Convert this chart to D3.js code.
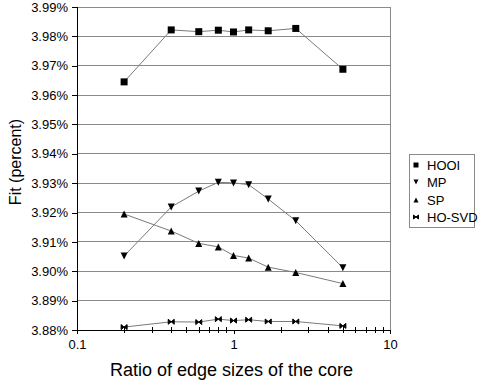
<!DOCTYPE html>
<html><head><meta charset="utf-8">
<script src="https://cdn.jsdelivr.net/npm/d3@7"></script>
<style>body{margin:0;background:#fff}svg{display:block;font-family:"Liberation Sans",Arial,sans-serif}</style>
</head><body><svg id="c" width="479" height="381"></svg>
<script>
const ratios = [0.2, 0.4, 0.6, 0.8, 1, 1.25, 5/3, 2.5, 5];
const seriesNames = ["HOOI", "MP", "SP", "HO-SVD"];
const hooi  = [3.9645, 3.9822, 3.9816, 3.9821, 3.9815, 3.9822, 3.9819, 3.9827, 3.9688];
const mp    = [3.9052, 3.9219, 3.9273, 3.9303, 3.9301, 3.9295, 3.9246, 3.9172, 3.9012];
const sp    = [3.9195, 3.9137, 3.9095, 3.9083, 3.9054, 3.9045, 3.9014, 3.8996, 3.8958];
const hosvd = [3.8810, 3.8828, 3.8827, 3.8837, 3.8832, 3.8835, 3.8829, 3.8829, 3.8814];
const yTicks = [3.88, 3.89, 3.90, 3.91, 3.92, 3.93, 3.94, 3.95, 3.96, 3.97, 3.98, 3.99];
const xTickLabels = [0.1, 1, 10];
const minorTicks = [0.2,0.3,0.4,0.5,0.6,0.7,0.8,0.9,2,3,4,5,6,7,8,9];

const svg = d3.select("#c");
const L = 77, R = 390, T = 7, B = 330;
const x = d3.scaleLog().domain([0.1, 10]).range([L, R]);
const y = d3.scaleLinear().domain([3.88, 3.99]).range([B, T]);
const grid = "#8a8a8a";

// gridlines
svg.append("g").selectAll("line").data(yTicks.slice(1)).join("line")
  .attr("x1", L).attr("x2", R).attr("y1", d => y(d)).attr("y2", d => y(d))
  .attr("stroke", grid).attr("stroke-width", 1).attr("shape-rendering", "crispEdges");
// right border
svg.append("line").attr("x1", R).attr("x2", R).attr("y1", T).attr("y2", B)
  .attr("stroke", grid).attr("shape-rendering", "crispEdges");

// y axis
const yAxis = d3.axisLeft(y).tickValues(yTicks).tickSize(5).tickPadding(4)
  .tickFormat(d => d3.format(".2f")(d) + "%");
const gy = svg.append("g").attr("transform", `translate(${L},0)`).call(yAxis);
gy.select(".domain").attr("stroke", "#000").attr("shape-rendering", "crispEdges");
gy.selectAll(".tick line").attr("stroke", "#000").attr("shape-rendering", "crispEdges");
gy.selectAll("text").attr("font-size", 13).attr("fill", "#000").attr("font-family", "Liberation Sans, Arial, sans-serif");

// x axis
const xAxis = d3.axisBottom(x).tickValues(xTickLabels).tickSize(4).tickPadding(6)
  .tickFormat(d => String(d));
const gx = svg.append("g").attr("transform", `translate(0,${B})`).call(xAxis);
gx.select(".domain").attr("stroke", "#000").attr("shape-rendering", "crispEdges");
gx.selectAll(".tick line").attr("stroke", "#000").attr("shape-rendering", "crispEdges");
gx.selectAll("text").attr("font-size", 13).attr("fill", "#000").attr("font-family", "Liberation Sans, Arial, sans-serif");
svg.append("g").selectAll("line").data(minorTicks).join("line")
  .attr("x1", d => Math.round(x(d)) + 0.5).attr("x2", d => Math.round(x(d)) + 0.5)
  .attr("y1", B - 3).attr("y2", B + 3).attr("stroke", "#000");

// symbols
function marker(g, type, s) {
  if (type === "HOOI") return g.append("rect").attr("x", -s/2).attr("y", -s/2).attr("width", s).attr("height", s).attr("fill", "#000");
  if (type === "MP") return g.append("path").attr("d", `M${-s/2},${-s/2}L${s/2},${-s/2}L0,${s/2}Z`).attr("fill", "#000");
  if (type === "SP") return g.append("path").attr("d", `M${-s/2},${s/2}L${s/2},${s/2}L0,${-s/2}Z`).attr("fill", "#000");
  return g.append("path").attr("d", `M${-s/2},${-s/2+0.5}L${-s/2},${s/2-0.5}L0,0Z M${s/2},${-s/2+0.5}L${s/2},${s/2-0.5}L0,0Z`).attr("fill", "#000").attr("stroke", "#000").attr("stroke-width", 1);
}

const allSeries = [hooi, mp, sp, hosvd];
const line = d3.line().x((d, i) => x(ratios[i])).y(d => y(d));
allSeries.forEach((vals, si) => {
  svg.append("path").datum(vals).attr("d", line).attr("fill", "none")
    .attr("stroke", "#7a7a7a").attr("stroke-width", 1);
});
allSeries.forEach((vals, si) => {
  const sz = si === 3 ? 6 : 7;
  vals.forEach((v, i) => {
    const g = svg.append("g").attr("transform", `translate(${x(ratios[i])},${y(v)})`);
    marker(g, seriesNames[si], sz);
  });
});

// axis titles
svg.append("text").attr("x", (L + R) / 2 - 2).attr("y", 376).attr("text-anchor", "middle")
  .attr("font-size", 18).text("Ratio of edge sizes of the core");
svg.append("text").attr("transform", `translate(21,162) rotate(-90)`).attr("text-anchor", "middle")
  .attr("font-size", 16).text("Fit (percent)");

// legend
const lg = svg.append("g");
lg.append("rect").attr("x", 409.5).attr("y", 154.5).attr("width", 65).attr("height", 73)
  .attr("fill", "#fff").attr("stroke", "#8a8a8a");
const ly = [165, 182, 200, 217];
seriesNames.forEach((n, i) => {
  const g = lg.append("g").attr("transform", `translate(416,${ly[i]})`);
  marker(g, n, 5);
  lg.append("text").attr("x", 427).attr("y", ly[i]).attr("dy", "0.36em")
    .attr("font-size", 13).text(n);
});
</script></body></html>
